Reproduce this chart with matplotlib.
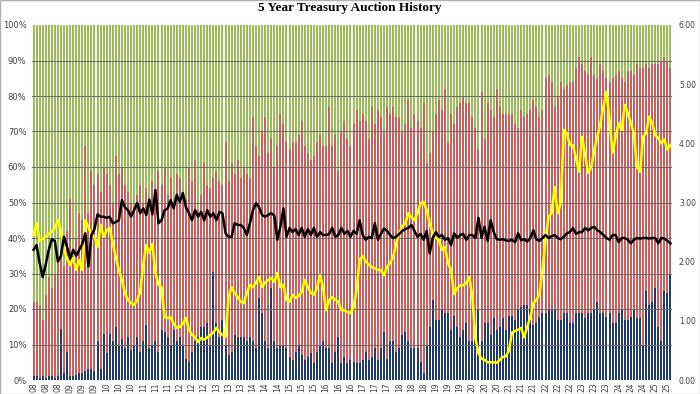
import numpy as np
import pandas as pd
import matplotlib
matplotlib.use("Agg")
import matplotlib.pyplot as plt
from matplotlib.ticker import PercentFormatter, FormatStrFormatter
from matplotlib.patches import Rectangle

# monthly 5y auctions, Jan 2008 -> Jun 2025
dates = pd.date_range("2008-01-01", periods=210, freq="MS")

# direct bidders share (%), bottom of the stack
direct_pct = [
    1, 1, 0.5, 1, 0.5, 1, 1, 0.5, 1, 14.5, 2, 8,            # 2008
    1, 1, 1.5, 2, 2, 2.5, 3, 3, 2.5, 11, 3, 13,             # 2009
    7.5, 13, 11, 15, 10, 11.5, 9, 12, 8.5, 9.5, 12, 8,      # 2010
    11, 15.5, 9, 10, 11, 8, 14, 13.5, 12, 9.5, 14, 11,      # 2011
    12, 10, 6, 5, 8, 11, 12, 15, 15, 16, 10, 30.5,          # 2012
    16, 12, 17, 10, 7, 8, 12.7, 12, 12, 12, 11, 12,         # 2013
    11, 9, 23, 19, 11, 9, 26, 11, 9, 9.5, 10, 9,            # 2014
    6.5, 5.6, 8, 10, 7, 5.6, 6.5, 7.5, 4.8, 8, 10, 11,      # 2015
    9, 9, 4.8, 8, 12, 4.8, 6.5, 4.8, 5.6, 5, 4.8, 4.8,      # 2016
    5.6, 8, 5.6, 6.5, 9, 5.6, 9, 13.5, 6, 11, 11, 8,        # 2017
    9, 12.7, 13.5, 11, 9, 9, 9, 5, 2, 10, 15, 22.5,         # 2018
    17, 17, 19.7, 19, 19, 14, 18, 15, 12, 14, 16, 11,       # 2019
    11, 12, 20, 11, 16, 16, 12.7, 17.5, 14, 15, 17.5, 14,   # 2020
    18, 18, 17, 20, 20.6, 21, 21, 20, 15.5, 16, 17.8, 19,   # 2021
    19, 20, 20, 20, 17, 17, 19, 19, 16, 16, 19, 19,         # 2022
    19, 17.5, 19, 19, 20, 22, 19, 19, 17.8, 19, 16, 16,     # 2023
    19, 20, 17, 17, 17.8, 20, 17.5, 17.5, 10, 25, 21, 22,   # 2024
    26, 15, 11, 25, 24.5, 29.5,                             # 2025
]

# direct + indirect share (%), top of the red part
direct_indirect_pct = [
    22, 22, 21, 17, 24, 29, 26, 30, 33, 35, 32, 42,         # 2008
    51, 35, 40, 47, 45, 66, 47, 59, 55, 58, 53, 60,         # 2009
    58, 55, 50, 63, 58, 60, 55, 53, 50, 47, 52, 55,         # 2010
    50, 54, 48, 56, 52, 59, 55, 60, 52, 57, 50, 58,         # 2011
    57, 53, 51, 60, 56, 62, 48, 52, 61, 55, 54, 57,         # 2012
    59, 56, 55, 67, 56, 61, 58, 62, 57, 60, 58, 57,         # 2013
    74, 66, 63, 70, 74, 64, 68, 60, 66, 75, 72, 67,         # 2014
    65, 67, 67, 69, 73, 66, 64, 62, 63, 67, 69, 66,         # 2015
    66, 77, 66, 69, 59, 70, 73, 68, 66, 72, 76, 73,         # 2016
    75, 73, 68, 77, 72, 76, 74, 70, 77, 75, 77, 74,         # 2017
    74, 70, 72, 79, 71, 75, 73, 71, 78, 61, 64, 70,         # 2018
    75, 79, 76, 82, 67, 75, 72, 77, 78, 80, 78, 78,         # 2019
    74, 71, 65, 81, 68, 78, 76, 74, 82, 77, 75, 75,         # 2020
    75, 75, 72, 71, 76, 74, 75, 76, 79, 77, 74, 76,         # 2021
    85, 86, 84, 77, 80, 84, 82, 83, 84, 84, 88, 91,         # 2022
    89, 87, 86, 91, 86, 85, 89, 87, 85, 84, 85, 86,         # 2023
    87, 85, 84, 87, 87, 86, 89, 88, 88, 89, 88, 89,         # 2024
    89, 89, 90, 91, 90, 88,                                 # 2025
]

# high yield (%), right axis
high_yield = [
    2.45, 2.65, 2.35, 2.38, 2.42, 2.47, 2.5, 2.57, 2.70, 2.5, 2.2, 2.05,
    1.94, 2.06, 1.86, 2.03, 1.86, 2.70, 2.59, 2.45, 2.42, 2.25, 2.62, 2.42,
    2.53, 2.57, 2.31, 2.08, 1.86, 1.69, 1.47, 1.35, 1.30, 1.27, 1.35, 1.49,
    1.94, 2.28, 2.15, 2.3, 1.81, 1.61, 1.57, 1.06, 1.05, 1.06, 0.95, 0.88,
    0.9, 0.95, 1.05, 0.85, 0.76, 0.73, 0.64, 0.71, 0.68, 0.72, 0.76, 0.80,
    0.88, 0.81, 0.76, 0.73, 1.40, 1.57, 1.47, 1.40, 1.32, 1.30, 1.47, 1.61,
    1.57, 1.64, 1.74, 1.57, 1.65, 1.69, 1.72, 1.66, 1.81, 1.57, 1.61, 1.35,
    1.32, 1.44, 1.39, 1.42, 1.49, 1.69, 1.57, 1.47, 1.44, 1.55, 1.77, 1.57,
    1.18, 1.35, 1.40, 1.36, 1.32, 1.18, 1.18, 1.15, 1.13, 1.23, 1.52, 2.03,
    2.1, 2.0, 1.95, 1.91, 1.89, 1.86, 1.86, 1.77, 1.91, 1.98, 2.08, 2.3,
    2.48, 2.6, 2.65, 2.82, 2.75, 2.7, 2.82, 2.99, 3.01, 2.87, 2.65, 2.48,
    2.4, 2.37, 2.2, 2.25, 1.98, 1.86, 1.45, 1.55, 1.6, 1.6, 1.64, 1.74,
    1.4, 0.7, 0.45, 0.36, 0.34, 0.30, 0.30, 0.30, 0.29, 0.34, 0.39, 0.40,
    0.5, 0.8, 0.83, 0.85, 0.88, 0.72, 0.90, 1.06, 1.3, 1.35, 1.45, 1.86,
    2.37, 2.76, 2.82, 3.26, 2.82, 2.99, 4.23, 4.17, 3.97, 3.97, 3.75, 3.52,
    4.11, 3.80, 3.50, 3.60, 3.89, 4.11, 4.34, 4.62, 4.87, 4.39, 3.84, 4.11,
    4.34, 4.23, 4.65, 4.51, 4.34, 4.17, 3.60, 3.52, 4.11, 4.17, 4.45, 4.34,
    4.14, 4.09, 4.00, 4.06, 3.89, 3.97,
]

# bid to cover, right axis
bid_to_cover = [
    2.2, 2.28, 1.98, 1.74, 1.95, 2.2, 2.38, 2.35, 2.0, 2.1, 2.42, 2.25,
    2.05, 2.2, 2.1, 2.2, 2.3, 2.48, 1.92, 2.45, 2.55, 2.8, 2.76, 2.76,
    2.74, 2.76, 2.65, 2.67, 2.7, 3.04, 2.92, 2.87, 2.76, 2.87, 2.99, 2.82,
    2.9, 2.79, 3.05, 2.8, 3.21, 2.65, 2.7, 2.87, 2.9, 3.04, 2.9, 3.13,
    3.01, 3.16, 2.92, 2.82, 2.70, 2.87, 2.76, 2.84, 2.70, 2.87, 2.76, 2.82,
    2.70, 2.84, 2.82, 2.48, 2.42, 2.42, 2.65, 2.62, 2.62, 2.57, 2.45, 2.65,
    2.87, 2.99, 2.92, 2.79, 2.76, 2.79, 2.82, 2.78, 2.37, 2.59, 2.9, 2.42,
    2.57, 2.5, 2.55, 2.45, 2.57, 2.42, 2.55, 2.45, 2.57, 2.42, 2.5, 2.45,
    2.45, 2.47, 2.57, 2.42, 2.45, 2.57, 2.47, 2.52, 2.42, 2.52, 2.47, 2.70,
    2.45, 2.37, 2.42, 2.40, 2.65, 2.37, 2.47, 2.56, 2.52, 2.45, 2.40, 2.42,
    2.47, 2.52, 2.55, 2.57, 2.62, 2.52, 2.42, 2.47, 2.37, 2.52, 2.14, 2.40,
    2.50, 2.42, 2.45, 2.37, 2.40, 2.28, 2.48, 2.40, 2.45, 2.47, 2.37, 2.45,
    2.45, 2.40, 2.74, 2.40, 2.59, 2.35, 2.70, 2.50, 2.38, 2.37, 2.38, 2.36,
    2.35, 2.37, 2.33, 2.48, 2.36, 2.38, 2.34, 2.40, 2.53, 2.38, 2.35, 2.40,
    2.45, 2.40, 2.43, 2.45, 2.40, 2.38, 2.42, 2.48, 2.50, 2.57, 2.47, 2.50,
    2.50, 2.57, 2.53, 2.57, 2.59, 2.53, 2.50, 2.45, 2.40, 2.37, 2.45, 2.45,
    2.33, 2.40, 2.40, 2.37, 2.31, 2.37, 2.40, 2.39, 2.40, 2.40, 2.39, 2.40,
    2.40, 2.31, 2.40, 2.39, 2.35, 2.31,
]

direct = np.array(direct_pct)
top = np.array(direct_indirect_pct)
indirect = top - direct
dealers = 100 - top
x = np.arange(len(dates))

navy = "#1F3B66"
red = "#C9605D"
green = "#9BBB59"

fig = plt.figure(figsize=(7, 3.94), dpi=100)
ax = fig.add_axes([32 / 700, 14 / 394, 640 / 700, 355 / 394])

w = 0.66
ax.bar(x, direct, width=w, color=navy, linewidth=0, zorder=2)
ax.bar(x, indirect, bottom=direct, width=w, color=red, linewidth=0, zorder=2)
ax.bar(x, dealers, bottom=top, width=w, color=green, linewidth=0, zorder=2)

# gridlines sit over the bars
for v in range(10, 100, 10):
    ax.axhline(v, color="#6a6a6a", lw=0.7, zorder=3)

ax.set_xlim(-0.5, len(x) - 0.5)
ax.set_ylim(0, 100)
ax.set_yticks(range(0, 101, 10))
ax.yaxis.set_major_formatter(PercentFormatter(decimals=0))
ax.set_xticks(x[::4])
ax.set_xticklabels(dates[::4].strftime("%y"), rotation=90)
ax.tick_params(axis="y", length=0, pad=4, labelsize=6, colors="#404040")
ax.tick_params(axis="x", length=0, pad=2, labelsize=5.5, colors="#404040")
for s in ax.spines.values():
    s.set_visible(False)

ax2 = ax.twinx()
ax2.plot(x, high_yield, color="#FFFF00", lw=1.8, zorder=4)
ax2.plot(x, bid_to_cover, color="black", lw=1.8, zorder=5)
ax2.set_ylim(0, 6)
ax2.set_yticks(range(0, 7))
ax2.yaxis.set_major_formatter(FormatStrFormatter("%.2f"))
ax2.tick_params(axis="y", length=0, pad=5, labelsize=5.5, colors="#404040")
for s in ax2.spines.values():
    s.set_visible(False)

fig.text(0.5, 1 - 8 / 394, "5 Year Treasury Auction History", ha="center", va="center",
         family="Liberation Serif", fontweight="bold", fontsize=9.5)

fig.patches.append(Rectangle((0, 0), 1, 1, transform=fig.transFigure, fill=False,
                             edgecolor="#b0b0b0", lw=1))

fig.savefig("out.png", dpi=100)
